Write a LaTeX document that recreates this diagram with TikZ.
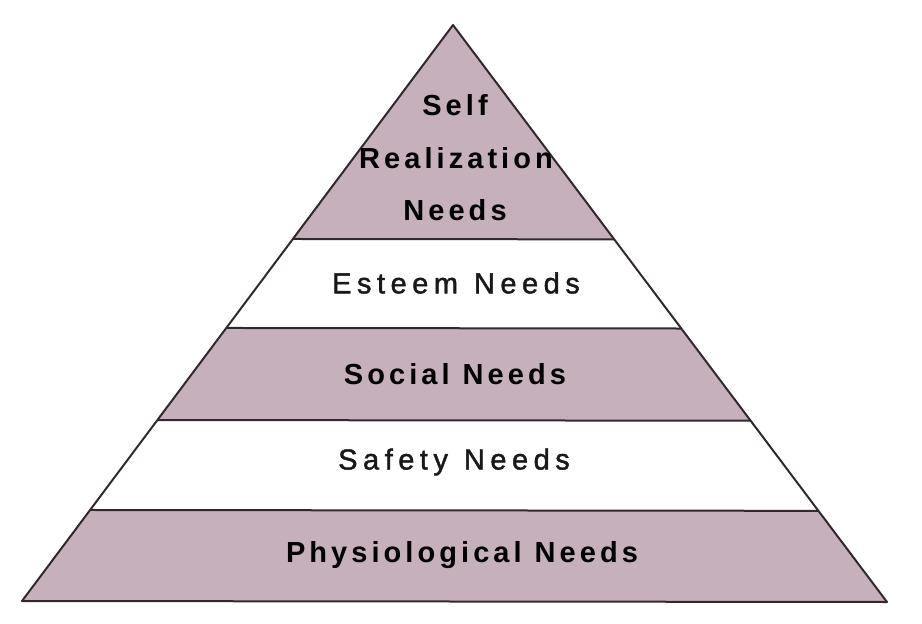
\documentclass[tikz,border=0pt]{standalone}
\usepackage{fontspec}
\setmainfont{Liberation Sans}
\newfontfamily\lblfont[LetterSpace=19,FakeBold=1.5]{Liberation Sans}
\newfontfamily\lblboldfont[LetterSpace=14]{Liberation Sans Bold}
\usetikzlibrary{calc}
\definecolor{mauve}{RGB}{198,176,188}
\definecolor{edge}{RGB}{50,40,45}
\tikzset{
  band/.style={fill=mauve, draw=none},
  rim/.style={draw=edge, line width=2pt, line join=round},
  lbl/.style={font=\lblfont\fontsize{29}{34}\selectfont, text=black!90, inner sep=0pt, anchor=center},
  lblb/.style={lbl, text=black, font=\lblboldfont\fontsize{29}{34}\selectfont}
}
\begin{document}
\begin{tikzpicture}[x=1pt,y=-1pt]
\useasboundingbox (0,0) rectangle (922,624);
\coordinate (A) at (453,25);
\coordinate (L) at (22,601);
\coordinate (R) at (887,602);
\coordinate (l1) at ($(A)!0.3715!(L)$); \coordinate (r1) at ($(A)!0.3715!(R)$);
\coordinate (l2) at ($(A)!0.526!(L)$);  \coordinate (r2) at ($(A)!0.526!(R)$);
\coordinate (l3) at ($(A)!0.6858!(L)$); \coordinate (r3) at ($(A)!0.6858!(R)$);
\coordinate (l4) at ($(A)!0.842!(L)$);  \coordinate (r4) at ($(A)!0.842!(R)$);
% shaded bands
\fill[band] (A) -- (r1) -- (l1) -- cycle;
\fill[band] (l2) -- (r2) -- (r3) -- (l3) -- cycle;
\fill[band] (l4) -- (r4) -- (R) -- (L) -- cycle;
% lines
\draw[rim] (A) -- (R) -- (L) -- cycle;
\draw[rim] (l1) -- (r1);
\draw[rim] (l2) -- (r2);
\draw[rim] (l3) -- (r3);
\draw[rim] (l4) -- (r4);
% labels
\node[lblb] (t1) at (455,105) {Self};
\node[lblb] (t2) at (456,158) {Realization};
\node[lblb] (t3) at (455,210) {Needs};
\node[lbl]  (t4) at (456,283) {Esteem\hspace{0.55em}Needs};
\node[lblb] (t5) at (455,374) {Social\hspace{0.45em}Needs};
\node[lbl]  (t6) at (454,462) {Safety\hspace{0.55em}Needs};
\node[lblb] (t7) at (462,555) {Physiological\hspace{0.45em}Needs};
\end{tikzpicture}
\end{document}
